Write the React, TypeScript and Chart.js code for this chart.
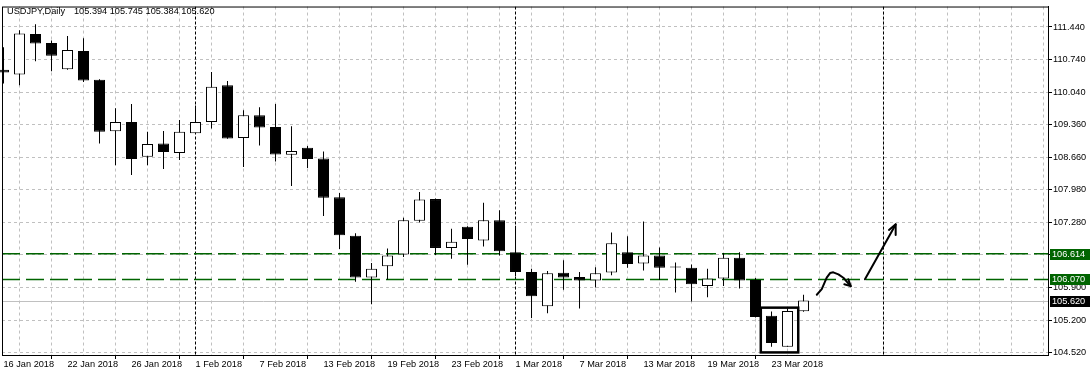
import { useEffect, useRef } from "react";
import { Chart, registerables } from "chart.js";

Chart.register(...registerables);

// ---- data ----
const symbolTitle = "USDJPY,Daily";
const lastQuote = ["105.394", "105.745", "105.384", "105.620"];

const dateLabels = [
  "16 Jan 2018", "22 Jan 2018", "26 Jan 2018", "1 Feb 2018", "7 Feb 2018",
  "13 Feb 2018", "19 Feb 2018", "23 Feb 2018", "1 Mar 2018", "7 Mar 2018",
  "13 Mar 2018", "19 Mar 2018", "23 Mar 2018",
];
const dateLabelEvery = 4;

const opens = [
  110.53, 110.43, 111.29, 111.10, 110.54, 110.93, 110.32, 109.22, 109.42, 108.68,
  108.96, 108.76, 109.18, 109.42, 110.20, 109.08, 109.56, 109.31, 108.72, 108.87,
  108.64, 107.82, 107.00, 106.11, 106.35, 106.60, 107.32, 107.78, 106.74, 107.19,
  106.90, 107.33, 106.65, 106.23, 105.50, 106.21, 106.12, 106.05, 106.22, 106.65,
  106.41, 106.58, 106.335, 106.32, 105.93, 106.09, 106.53, 106.06, 105.30, 104.64,
  105.394,
];
const highs = [
  111.01, 111.37, 111.50, 111.15, 111.25, 111.20, 110.33, 109.71, 109.80, 109.21,
  109.23, 109.46, 109.77, 110.48, 110.29, 109.67, 109.73, 109.80, 109.33, 108.91,
  108.79, 107.91, 107.05, 106.42, 106.73, 107.38, 107.93, 107.79, 107.15, 107.20,
  107.70, 107.54, 107.21, 106.30, 106.25, 106.48, 106.23, 106.33, 107.07, 106.99,
  107.30, 106.75, 106.43, 106.39, 106.30, 106.63, 106.65, 106.10, 105.39, 105.46,
  105.745,
];
const lows = [
  110.24, 110.20, 110.71, 110.50, 110.53, 110.27, 108.96, 108.50, 108.29, 108.50,
  108.42, 108.61, 109.17, 109.28, 109.06, 108.46, 108.92, 108.58, 108.06, 108.44,
  107.42, 106.72, 106.02, 105.54, 106.07, 106.55, 107.28, 106.59, 106.51, 106.38,
  106.77, 106.58, 106.14, 105.25, 105.35, 105.85, 105.45, 105.90, 106.16, 106.32,
  106.26, 106.06, 105.79, 105.60, 105.69, 105.93, 105.88, 105.26, 104.64, 104.64,
  105.384,
];
const closes = [
  110.47, 111.30, 111.09, 110.83, 110.95, 110.30, 109.21, 109.42, 108.63, 108.95,
  108.78, 109.21, 109.42, 110.17, 109.07, 109.56, 109.30, 108.73, 108.80, 108.63,
  107.81, 107.01, 106.11, 106.30, 106.58, 107.33, 107.77, 106.74, 106.87, 106.93,
  107.33, 106.67, 106.23, 105.71, 106.20, 106.11, 106.05, 106.20, 106.84, 106.40,
  106.58, 106.32, 106.325, 105.97, 106.09, 106.53, 106.05, 105.27, 104.72, 105.40,
  105.620,
];

const yTickLabels = [
  "104.520", "105.200", "105.900", "106.590", "107.280", "107.980",
  "108.660", "109.360", "110.040", "110.740", "111.440",
];
const levelLines = [106.614, 106.07];
const levelLabels = ["106.614", "106.070"];
const currentPrice = 105.62;
const currentLabel = "105.620";
const separatorBars = [12, 32, 55];

const boxBars = [47.33, 49.67];
const boxPrices = [105.47, 104.518];

const curveBars = [50.83, 51.14, 51.45, 51.66, 51.86, 52.18, 52.49, 52.7, 52.95];
const curvePrices = [105.744, 105.864, 106.107, 106.206, 106.221, 106.179, 106.107, 106.023, 105.927];
const curveHeadBars = [52.55, 52.95, 52.8];
const curveHeadPrices = [105.969, 105.927, 106.074];
const arrowBars = [53.84, 55.76];
const arrowPrices = [106.074, 107.241];
const arrowHeadBars = [55.34, 55.76, 55.76];
const arrowHeadPrices = [107.123, 107.241, 107.018];

// ---- view ----
const X_MIN = -0.094;
const X_MAX = 65.28;
const Y_MIN = 104.463;
const Y_MAX = 111.875;
const FONT = "'Liberation Sans', Arial, sans-serif";
const FONT_SIZE = 9.2;
const GREEN = "rgb(0,100,0)";

const overlayPlugin = {
  id: "mt4overlay",
  beforeDatasetsDraw(chart: any) {
    const { ctx, chartArea: a, scales } = chart;
    const xs = scales.x, ys = scales.y;
    ctx.save();
    ctx.beginPath();
    ctx.rect(a.left, a.top, a.right - a.left, a.bottom - a.top);
    ctx.clip();
    // current price line
    const cy = Math.round(ys.getPixelForValue(currentPrice)) + 0.5;
    ctx.strokeStyle = "#c0c0c0";
    ctx.lineWidth = 1;
    ctx.setLineDash([]);
    ctx.beginPath();
    ctx.moveTo(a.left, cy);
    ctx.lineTo(a.right, cy);
    ctx.stroke();
    // separators
    ctx.strokeStyle = "#000";
    ctx.setLineDash([3, 2]);
    separatorBars.forEach((b) => {
      const x = Math.floor(xs.getPixelForValue(b)) + 0.5;
      ctx.beginPath();
      ctx.moveTo(x, a.top);
      ctx.lineTo(x, a.bottom);
      ctx.stroke();
    });
    // level lines
    ctx.strokeStyle = GREEN;
    ctx.lineWidth = 1.5;
    ctx.setLineDash([18, 6]);
    levelLines.forEach((v) => {
      const y = ys.getPixelForValue(v);
      ctx.beginPath();
      ctx.moveTo(a.left, y);
      ctx.lineTo(a.right, y);
      ctx.stroke();
    });
    ctx.restore();
  },
  afterDatasetsDraw(chart: any) {
    const { ctx, scales } = chart;
    const xs = scales.x, ys = scales.y;
    const P = (b: number, p: number) => [xs.getPixelForValue(b), ys.getPixelForValue(p)];
    ctx.save();
    ctx.strokeStyle = "#000";
    ctx.setLineDash([]);
    // highlight box
    const [bx0, by0] = P(boxBars[0], boxPrices[0]);
    const [bx1, by1] = P(boxBars[1], boxPrices[1]);
    ctx.lineWidth = 2.5;
    ctx.strokeRect(bx0, by0, bx1 - bx0, by1 - by0);
    // curve
    ctx.lineWidth = 2;
    ctx.lineCap = "round";
    ctx.lineJoin = "round";
    const poly = (bs: number[], ps: number[]) => {
      ctx.beginPath();
      bs.forEach((b, i) => {
        const [x, y] = P(b, ps[i]);
        if (i === 0) ctx.moveTo(x, y);
        else ctx.lineTo(x, y);
      });
      ctx.stroke();
    };
    poly(curveBars, curvePrices);
    poly(curveHeadBars, curveHeadPrices);
    poly(arrowBars, arrowPrices);
    poly(arrowHeadBars, arrowHeadPrices);
    ctx.restore();
  },
  afterDraw(chart: any) {
    const { ctx, chartArea: a, scales } = chart;
    const ys = scales.y;
    ctx.save();
    // frame
    ctx.strokeStyle = "#000";
    ctx.lineWidth = 1;
    ctx.setLineDash([]);
    ctx.strokeRect(a.left + 0.5, a.top + 0.5, a.right - a.left, a.bottom - a.top);
    ctx.font = `${FONT_SIZE}px ${FONT}`;
    ctx.textBaseline = "middle";
    // title
    ctx.fillStyle = "#000";
    ctx.textAlign = "left";
    ctx.fillText(symbolTitle, 7, 11);
    ctx.fillText(lastQuote.join(" "), 74, 11);
    // price boxes
    const box = (v: number, label: string, bg: string) => {
      const y = ys.getPixelForValue(v);
      ctx.fillStyle = bg;
      ctx.fillRect(a.right + 2, Math.round(y) - 5, 40, 11);
      ctx.fillStyle = "#fff";
      ctx.fillText(label, a.right + 4, Math.round(y) + 0.5);
    };
    levelLines.forEach((v, i) => box(v, levelLabels[i], GREEN));
    box(currentPrice, currentLabel, "#000");
    ctx.restore();
  },
};

export default function App() {
  const ref = useRef<HTMLCanvasElement | null>(null);
  useEffect(() => {
    document.body.style.margin = "0";
    const canvas = ref.current;
    if (!canvas) return;
    const idx = opens.map((_, i) => i);
    const bodies = idx.map((i) => ({ x: i, y: [opens[i], closes[i]] }));
    const wicks = idx.map((i) => ({ x: i, y: [lows[i], highs[i]] }));
    const bodyColors = idx.map((i) => (closes[i] >= opens[i] ? "#ffffff" : "#000000"));
    const chart = new Chart(canvas, {
      type: "bar",
      data: {
        datasets: [
          {
            label: "body",
            data: bodies as any,
            backgroundColor: bodyColors,
            borderColor: "#000",
            borderWidth: 1,
            borderSkipped: false,
            barThickness: 11,
            grouped: false,
            minBarLength: 1,
            inflateAmount: 0,
            clip: false as any,
            order: 0,
          } as any,
          {
            label: "wick",
            data: wicks as any,
            backgroundColor: "#000",
            borderWidth: 0,
            barThickness: 1,
            grouped: false,
            inflateAmount: 0,
            clip: false as any,
            order: 1,
          } as any,
        ],
      },
      options: {
        responsive: false,
        animation: false,
        events: [],
        layout: { padding: { left: 2, top: 2, right: 0, bottom: 0 } },
        plugins: { legend: { display: false }, tooltip: { enabled: false }, title: { display: false } },
        scales: {
          x: {
            type: "linear",
            position: "bottom",
            min: X_MIN,
            max: X_MAX,
            offset: false,
            afterBuildTicks: (s: any) => {
              const t = [];
              for (let v = 0; v <= Math.floor(X_MAX); v += 2) t.push({ value: v });
              s.ticks = t;
            },
            afterFit: (s: any) => {
              s.height = 21;
            },
            ticks: {
              autoSkip: false,
              maxRotation: 0,
              minRotation: 0,
              align: "start",
              padding: 0,
              color: "#000",
              font: { family: FONT, size: FONT_SIZE },
              callback: (v: any) => {
                const n = Number(v);
                if (n % dateLabelEvery !== 0) return "";
                return dateLabels[n / dateLabelEvery] || "";
              },
            },
            grid: {
              color: "#c0c0c0",
              lineWidth: 1,
              tickLength: 4,
              tickColor: (c: any) => {
                const n = c.tick ? Number(c.tick.value) : -1;
                return n % dateLabelEvery === 0 && n / dateLabelEvery < dateLabels.length ? "#000" : "rgba(0,0,0,0)";
              },
            },
            border: { display: true, color: "#000", width: 1, dash: [3, 3] },
          },
          y: {
            type: "linear",
            position: "right",
            min: Y_MIN,
            max: Y_MAX,
            afterBuildTicks: (s: any) => {
              s.ticks = yTickLabels.map((l) => ({ value: parseFloat(l) }));
            },
            afterFit: (s: any) => {
              s.width = 43;
            },
            ticks: {
              padding: 1,
              color: "#000",
              font: { family: FONT, size: FONT_SIZE },
              callback: (_v: any, i: number) => yTickLabels[i],
            },
            grid: { color: "#c0c0c0", lineWidth: 1, tickLength: 4, tickColor: "#000" },
            border: { display: true, color: "#000", width: 1, dash: [3, 3] },
          },
        },
      },
      plugins: [overlayPlugin],
    });
    return () => chart.destroy();
  }, []);
  return (
    <div style={{ width: 1091, height: 376 }}>
      <canvas ref={ref} width={1091} height={376} style={{ display: "block", width: 1091, height: 376 }} />
    </div>
  );
}
